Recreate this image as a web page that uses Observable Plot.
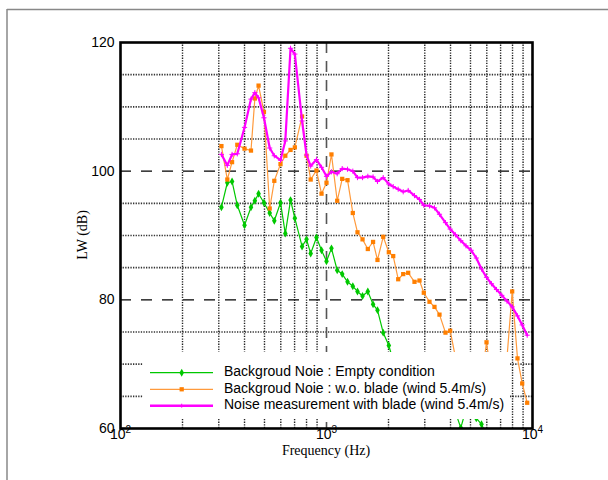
<!DOCTYPE html>
<html><head><meta charset="utf-8">
<script src="https://cdn.jsdelivr.net/npm/d3@7"></script>
<script src="https://cdn.jsdelivr.net/npm/@observablehq/plot@0.6"></script>
<style>
html,body{margin:0;padding:0;background:#fff;}
#chart{width:608px;height:480px;position:relative;}
svg{display:block;}
</style>
</head><body><div id="chart"></div>
<script>
// Frequency bands (Hz)
const freq = [309,330,348,369,400,430,449,468,497,530,558,598,631,669,702,761,800,838,894,946,
  1000,1057,1127,1192,1265,1342,1414,1496,1587,1683,1768,1885,2007,2108,2229,2357,2492,2674,2828,2967,
  3162,3344,3536,3781,3985,4228,4487,4755,5040,5336,5655,5981,6323,6687,7095,7519,7969,8456,8913,9425];
// Background noise: empty condition (dB)
const emptyLevel = [94.4,98.2,98.4,94.7,91.6,94.4,95.4,96.5,95.1,93.5,92.3,95.1,90.3,95.5,92.7,88.3,89.4,87.2,89.7,87.7,
  86.0,88.0,84.6,84.0,82.8,82.1,81.3,80.6,81.3,79.3,78.4,74.9,72.9,70.5,69.0,68.2,67.5,66.8,66.0,65.4,
  64.8,64.2,63.6,63.0,62.6,62.5,60.1,63.0,62.4,61.6,60.65,59.0];
// Background noise: without blade (dB)
const noBladeLevel = [103.9,98.7,101.4,104.1,103.5,103.2,111.3,113.3,109.2,94.2,98.5,101.1,102.4,103.3,103.7,108.5,102.4,98.7,100.1,96.5,
  98.2,102.6,95.4,98.8,98.6,93.5,90.5,89.4,87.9,89.0,86.2,89.8,87.4,86.8,83.2,84.0,84.2,82.8,83.0,81.1,
  79.7,78.9,77.7,74.9,75.2,71.0,66.5,65.0,66.0,64.5,67.5,73.4,68.0,64.5,63.5,71.0,81.3,70.9,67.0,64.0];
// Noise measurement with blade (dB)
const withBladeLevel = [102.6,100.9,102.6,102.7,106.8,111.2,112.2,111.4,108.3,103.6,102.4,101.7,104.7,119.1,118.2,107.8,102.5,100.8,101.8,100.6,
  99.2,99.9,99.6,100.4,100.3,100.0,99.0,99.0,99.2,99.1,98.4,99.0,98.0,97.6,97.2,96.8,97.0,96.2,95.6,94.7,
  94.6,94.3,93.3,92.0,91.0,90.1,89.2,88.4,87.7,86.5,84.8,83.5,82.5,81.6,80.7,79.8,78.9,77.5,76.1,74.5];

const seriesNames = ["Backgroud Noie : Empty condition","Backgroud Noie : w.o. blade (wind 5.4m/s)","Noise measurement with blade (wind 5.4m/s)"];
const yTicks = [60,80,100,120];
const xMajor = [100,1000,10000];
const xExp = ["2","3","4"];
const xMinorGrid = [200,300,400,500,600,700,800,900,2000,3000,4000,5000,6000,7000,8000,9000];
const xDashedGrid = [1000];
const yDottedGrid = [65,70,75,85,90,95,105,110,115];
const yDashedGrid = [80,100];

const colors = ["#00c800","#ff7f00","#ff00ff"];
const lineColors = ["#00c800","#ff9a3c","#ff00ff"];

const toRows = lv => lv.map((v,i)=>({f:freq[i], v}));
const green = toRows(emptyLevel), orange = toRows(noBladeLevel), magenta = toRows(withBladeLevel);

const plot = Plot.plot({
  width:608, height:480,
  marginLeft:120, marginRight:76, marginTop:42, marginBottom:52,
  x:{type:"log", domain:[100,10000], axis:null},
  y:{domain:[60,120], axis:null},
  style:{fontFamily:"'Liberation Sans', Arial, sans-serif", fontSize:"14px", background:"white", color:"black"},
  marks:[
    Plot.ruleX(xMinorGrid,{stroke:"#222", strokeDasharray:"1.3,1.3", strokeWidth:1.4}),
    Plot.ruleY(yDottedGrid,{stroke:"#333", strokeDasharray:"1.3,1.3", strokeWidth:1.7}),
    Plot.ruleY(yDashedGrid,{stroke:"#000", strokeDasharray:"11,10", strokeWidth:1.2}),
    Plot.ruleX(xDashedGrid,{stroke:"#555", strokeDasharray:"11,8", strokeWidth:1.6}),
    Plot.line(green,{x:"f", y:"v", stroke:lineColors[0], strokeWidth:1.2, clip:true}),
    Plot.dot(green,{x:"f", y:"v", symbol:"diamond", fill:colors[0], r:2.4, clip:true}),
    Plot.line(orange,{x:"f", y:"v", stroke:lineColors[1], strokeWidth:1.2, clip:true}),
    Plot.dot(orange,{x:"f", y:"v", symbol:"square", fill:colors[1], r:2.4, clip:true}),
    Plot.line(magenta,{x:"f", y:"v", stroke:lineColors[2], strokeWidth:2.2, clip:true}),
    Plot.dot(magenta,{x:"f", y:"v", symbol:"plus", stroke:colors[2], strokeWidth:1, r:1.8, clip:true}),
    Plot.frame({stroke:"black", strokeWidth:2.6}),
    Plot.text(yTicks,{y:d=>d, frameAnchor:"left", dx:-6, textAnchor:"end", text:d=>String(d), fontSize:14}),
    Plot.text(xMajor,{x:d=>d, frameAnchor:"bottom", dy:10, dx:5, textAnchor:"end", text:()=>"10", fontSize:14}),
    Plot.text(xMajor,{x:d=>d, frameAnchor:"bottom", dy:4, dx:5, textAnchor:"start", text:(d,i)=>xExp[i], fontSize:10})
  ]
});
document.getElementById("chart").appendChild(plot);

const svg = d3.select(plot);
// outer figure frame
svg.append("line").attr("x1",7).attr("y1",9.5).attr("x2",608).attr("y2",9.5).attr("stroke","#888").attr("stroke-width",1.5);
svg.append("line").attr("x1",7).attr("y1",9).attr("x2",7).attr("y2",480).attr("stroke","#888").attr("stroke-width",1.5);
// axis titles
svg.append("text").attr("x",326).attr("y",452).attr("text-anchor","middle").attr("dominant-baseline","middle")
  .attr("font-family","'Liberation Serif', 'Times New Roman', serif").attr("font-size",14).text("Frequency (Hz)");
svg.append("text").attr("transform","translate(84,235) rotate(-90)").attr("text-anchor","middle").attr("dominant-baseline","middle")
  .attr("font-family","'Liberation Serif', 'Times New Roman', serif").attr("font-size",14).text("LW (dB)");
// legend
const lg = svg.append("g");
lg.append("rect").attr("x",143).attr("y",352).attr("width",367).attr("height",67).attr("fill","white");
const rowY = [372.7,389.3,405.7];
const widths = [1.3,1.3,2.4];
seriesNames.forEach((name,i)=>{
  const y = rowY[i];
  lg.append("line").attr("x1",150).attr("x2",213).attr("y1",y).attr("y2",y).attr("stroke",lineColors[i]).attr("stroke-width",widths[i]);
  if(i===0) lg.append("path").attr("d",d3.symbol(d3.symbolDiamond, 2.4*2.4*Math.PI)()).attr("transform",`translate(181.7,${y})`).attr("fill",colors[0]);
  if(i===1) lg.append("path").attr("d",d3.symbol(d3.symbolSquare, 2.4*2.4*Math.PI)()).attr("transform",`translate(181.7,${y})`).attr("fill",colors[1]);
  if(i===2) lg.append("path").attr("d","M-2,0H2M0,-2V2").attr("transform",`translate(181.7,${y})`).attr("stroke",colors[2]).attr("stroke-width",1);
  lg.append("text").attr("x",224).attr("y",y).attr("text-anchor","start").attr("dominant-baseline","middle")
    .attr("font-family","'Liberation Sans', Arial, sans-serif").attr("font-size",14).attr("fill","black").text(name);
});
</script>
</body></html>
